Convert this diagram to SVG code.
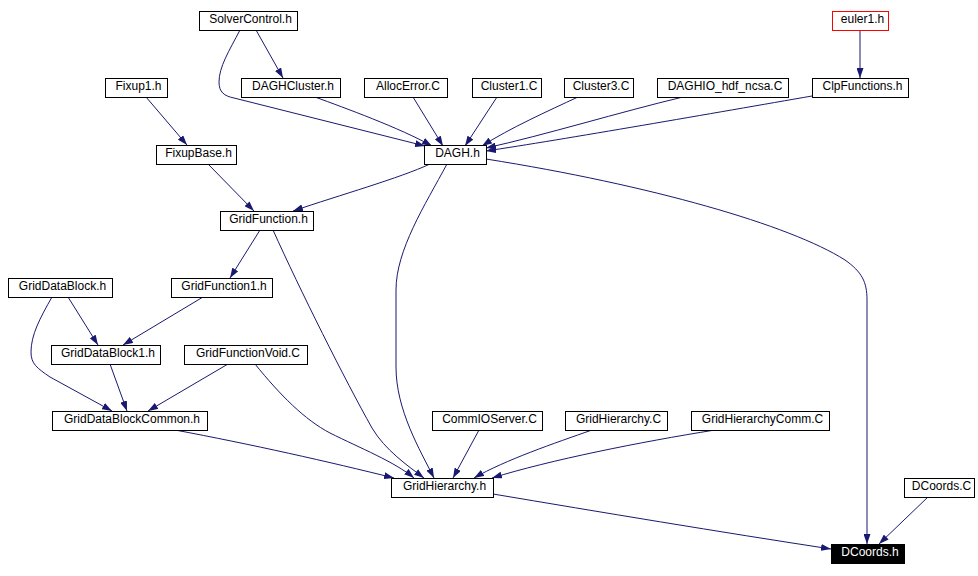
<svg xmlns="http://www.w3.org/2000/svg" width="978" height="576" viewBox="0 0 978 576">
<defs>
<marker id="a" markerWidth="10" markerHeight="7" refX="10" refY="3.5" orient="auto" markerUnits="userSpaceOnUse"><path d="M0,0L10,3.5L0,7z" fill="#191970"/></marker>
<style>
.n rect{fill:#fff;stroke:#000;stroke-width:1}
.n text{font-family:"Liberation Sans",Arial,sans-serif;font-size:12px;fill:#000;text-anchor:middle}
#euler1 rect{stroke:#ff0000}
#DCoords_h rect{fill:#000;stroke:#000}
#DCoords_h text{fill:#fff}
#edges path{fill:none;stroke:#191970;stroke-width:1;marker-end:url(#a)}
</style>
</defs>
<rect width="978" height="576" fill="#fff"/>
<g id="edges">
<path d="M256,30 L283,78"/>
<path d="M240,30 C229,51 219,67 219,82 C219,92 224,96 234,98 L425,146"/>
<path d="M315,97 C345,108 400,128 432,146"/>
<path d="M413,97 L443,146"/>
<path d="M497,97 L465,146"/>
<path d="M578,97 C548,111 510,128 482,146"/>
<path d="M683,97 C620,112 545,135 486,148"/>
<path d="M812,96 C720,112 560,140 486,151"/>
<path d="M860,30 L860,78"/>
<path d="M486,159 C650,185 790,225 845,260 C862,272 867,282 867,300 L867,544"/>
<path d="M430,164 C400,178 340,195 293,211"/>
<path d="M447,164 C425,205 396,250 396,290 L396,367 C396,410 420,450 434,478"/>
<path d="M146,97 L187,145"/>
<path d="M208,164 L254,211"/>
<path d="M260,230 L230,278"/>
<path d="M273,230 C300,290 345,380 372,428 C385,450 408,466 424,478"/>
<path d="M68,297 L98,345"/>
<path d="M52,297 C40,318 31,335 31,352 C31,364 37,368 50,377 L112,411"/>
<path d="M203,297 L123,345"/>
<path d="M110,364 L127,411"/>
<path d="M228,364 L148,411"/>
<path d="M255,364 C280,395 305,420 330,433 C360,448 395,462 414,478"/>
<path d="M175,430 C250,444 330,462 394,478"/>
<path d="M479,430 L453,478"/>
<path d="M592,430 C555,443 505,460 474,478"/>
<path d="M715,430 C640,442 550,460 492,478"/>
<path d="M493,494 C600,512 720,532 831,549"/>
<path d="M928,497 L879,544"/>
</g>
<g id="SolverControl_h" class="n"><rect x="199.5" y="11.5" width="98" height="19"/><text x="250.5" y="23">SolverControl.h</text></g>
<g id="euler1" class="n"><rect x="832.5" y="11.5" width="56" height="19"/><text x="862.5" y="23">euler1.h</text></g>
<g id="DAGHCluster_h" class="n"><rect x="241.5" y="78.5" width="99" height="19"/><text x="293" y="90">DAGHCluster.h</text></g>
<g id="AllocError_C" class="n"><rect x="364.5" y="78.5" width="83" height="19"/><text x="408" y="90">AllocError.C</text></g>
<g id="Cluster1_C" class="n"><rect x="472.5" y="78.5" width="69" height="19"/><text x="509" y="90">Cluster1.C</text></g>
<g id="Cluster3_C" class="n"><rect x="564.5" y="78.5" width="69" height="19"/><text x="601" y="90">Cluster3.C</text></g>
<g id="DAGHIO_hdf_ncsa_C" class="n"><rect x="657.5" y="78.5" width="131" height="19"/><text x="725" y="90">DAGHIO_hdf_ncsa.C</text></g>
<g id="ClpFunctions_h" class="n"><rect x="812.5" y="78.5" width="96" height="19"/><text x="862.5" y="90">ClpFunctions.h</text></g>
<g id="Fixup1_h" class="n"><rect x="105.5" y="78.5" width="62" height="19"/><text x="138.5" y="90">Fixup1.h</text></g>
<g id="FixupBase_h" class="n"><rect x="156.5" y="145.5" width="80" height="19"/><text x="198.5" y="157">FixupBase.h</text></g>
<g id="DAGH_h" class="n"><rect x="424.5" y="145.5" width="62" height="19"/><text x="457.5" y="157">DAGH.h</text></g>
<g id="GridFunction_h" class="n"><rect x="220.5" y="211.5" width="93" height="19"/><text x="268.5" y="223">GridFunction.h</text></g>
<g id="GridDataBlock_h" class="n"><rect x="8.5" y="278.5" width="104" height="19"/><text x="62.5" y="290">GridDataBlock.h</text></g>
<g id="GridFunction1_h" class="n"><rect x="171.5" y="278.5" width="101" height="19"/><text x="224" y="290">GridFunction1.h</text></g>
<g id="GridDataBlock1_h" class="n"><rect x="51.5" y="345.5" width="109" height="19"/><text x="108" y="357">GridDataBlock1.h</text></g>
<g id="GridFunctionVoid_C" class="n"><rect x="184.5" y="345.5" width="123" height="19"/><text x="248" y="357">GridFunctionVoid.C</text></g>
<g id="GridDataBlockCommon_h" class="n"><rect x="52.5" y="411.5" width="155" height="19"/><text x="132" y="423">GridDataBlockCommon.h</text></g>
<g id="CommIOServer_C" class="n"><rect x="432.5" y="411.5" width="110" height="19"/><text x="489.5" y="423">CommIOServer.C</text></g>
<g id="GridHierarchy_C" class="n"><rect x="565.5" y="411.5" width="102" height="19"/><text x="618.5" y="423">GridHierarchy.C</text></g>
<g id="GridHierarchyComm_C" class="n"><rect x="691.5" y="411.5" width="138" height="19"/><text x="762.5" y="423">GridHierarchyComm.C</text></g>
<g id="GridHierarchy_h" class="n"><rect x="391.5" y="478.5" width="102" height="19"/><text x="444.5" y="490">GridHierarchy.h</text></g>
<g id="DCoords_C" class="n"><rect x="904.5" y="478.5" width="70" height="19"/><text x="941.5" y="490">DCoords.C</text></g>
<g id="DCoords_h" class="n"><rect x="831.5" y="544.5" width="73" height="19"/><text x="870" y="556">DCoords.h</text></g>
</svg>
